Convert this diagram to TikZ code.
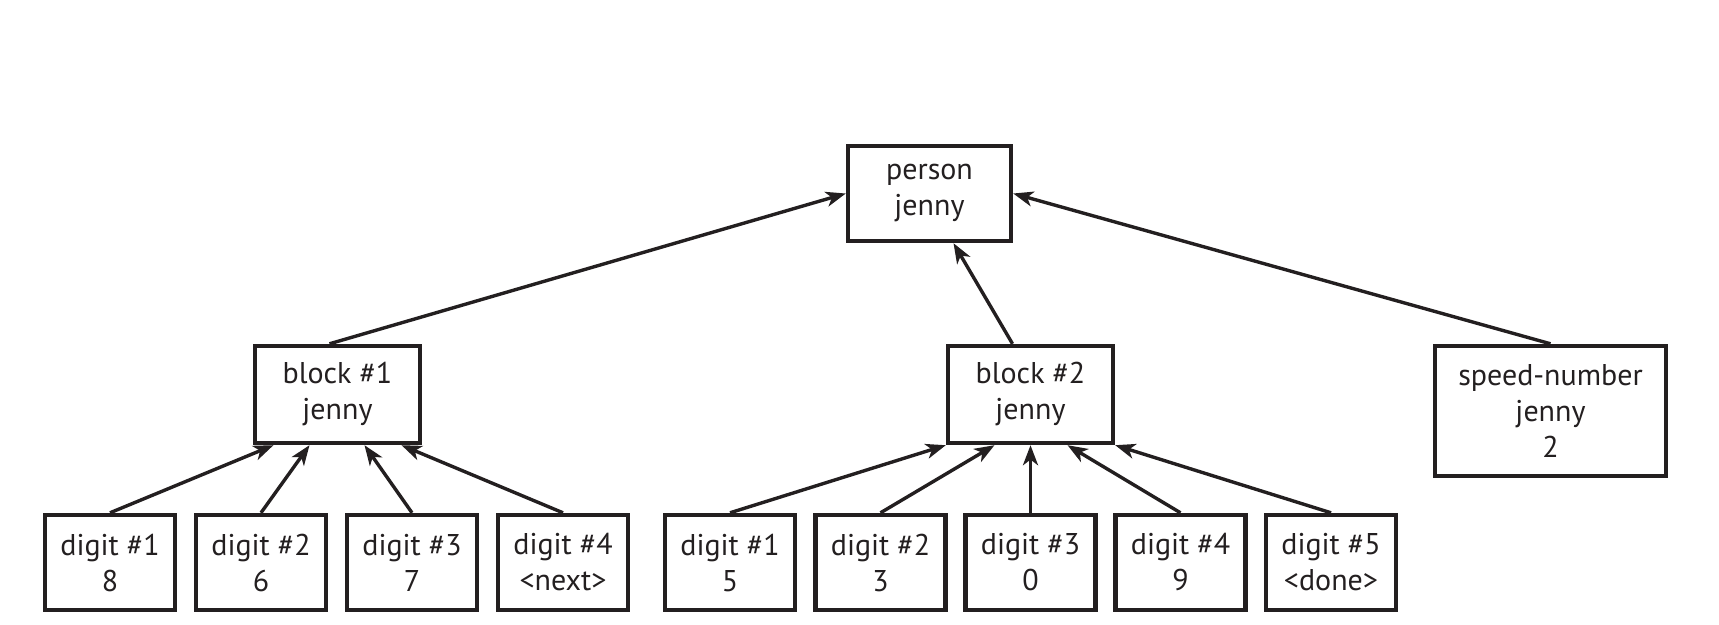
\documentclass[tikz,border=0pt]{standalone}
\usepackage{fontspec}
\setmainfont{PT Sans}
\usetikzlibrary{arrows.meta,calc}
\definecolor{ink}{RGB}{35,31,32}
\begin{document}
\begin{tikzpicture}[x=0.5pt,y=-0.5pt,
  box/.style={draw=ink, line width=2.2pt, align=center, inner sep=0pt, text=ink,
    font=\fontsize{15}{18}\selectfont},
  digitbox/.style={box, minimum width=65pt, minimum height=47.5pt},
  blockbox/.style={box, minimum width=82.5pt, minimum height=48.5pt},
  link/.style={draw=ink, line width=1.7pt, -{Stealth[length=10pt,width=7.5pt,inset=2.8pt]}}]
\useasboundingbox (0,0) rectangle (1719,625);

\node[box, minimum width=81.5pt, minimum height=47.5pt] (person) at (929.5,193.5) {person\\jenny};
\node[blockbox] (block1) at (337.5,394.5) {block \#1\\jenny};
\node[blockbox] (block2) at (1030.5,394.5) {block \#2\\jenny};
\node[box, minimum width=115.5pt, minimum height=65pt] (speed) at (1550.5,411) {speed-number\\jenny\\2};

\node[digitbox] (a1) at (110,562.5) {digit \#1\\8};
\node[digitbox] (a2) at (261,562.5) {digit \#2\\6};
\node[digitbox] (a3) at (412,562.5) {digit \#3\\7};
\node[digitbox] (a4) at (563,562.5) {digit \#4\\<next>};

\node[digitbox] (b1) at (730,562.5) {digit \#1\\5};
\node[digitbox] (b2) at (880.5,562.5) {digit \#2\\3};
\node[digitbox] (b3) at (1030.5,562.5) {digit \#3\\0};
\node[digitbox] (b4) at (1180.5,562.5) {digit \#4\\9};
\node[digitbox] (b5) at (1331,562.5) {digit \#5\\<done>};

\draw[link] ($(block1.north)+(-8,0)$) -- (person.west);
\draw[link] ($(block2.north)+(-18,0)$) -- ($(person.south)+(24,0)$);
\draw[link] (speed.north) -- (person.east);

\draw[link] (a1.north) -- ($(block1.south)+(-64,0)$);
\draw[link] (a2.north) -- ($(block1.south)+(-28,0)$);
\draw[link] (a3.north) -- ($(block1.south)+(27,0)$);
\draw[link] (a4.north) -- ($(block1.south)+(64,0)$);

\draw[link] (b1.north) -- (block2.south west);
\draw[link] (b2.north) -- ($(block2.south)+(-36,0)$);
\draw[link] (b3.north) -- (block2.south);
\draw[link] (b4.north) -- ($(block2.south)+(37,0)$);
\draw[link] (b5.north) -- (block2.south east);
\end{tikzpicture}
\end{document}
